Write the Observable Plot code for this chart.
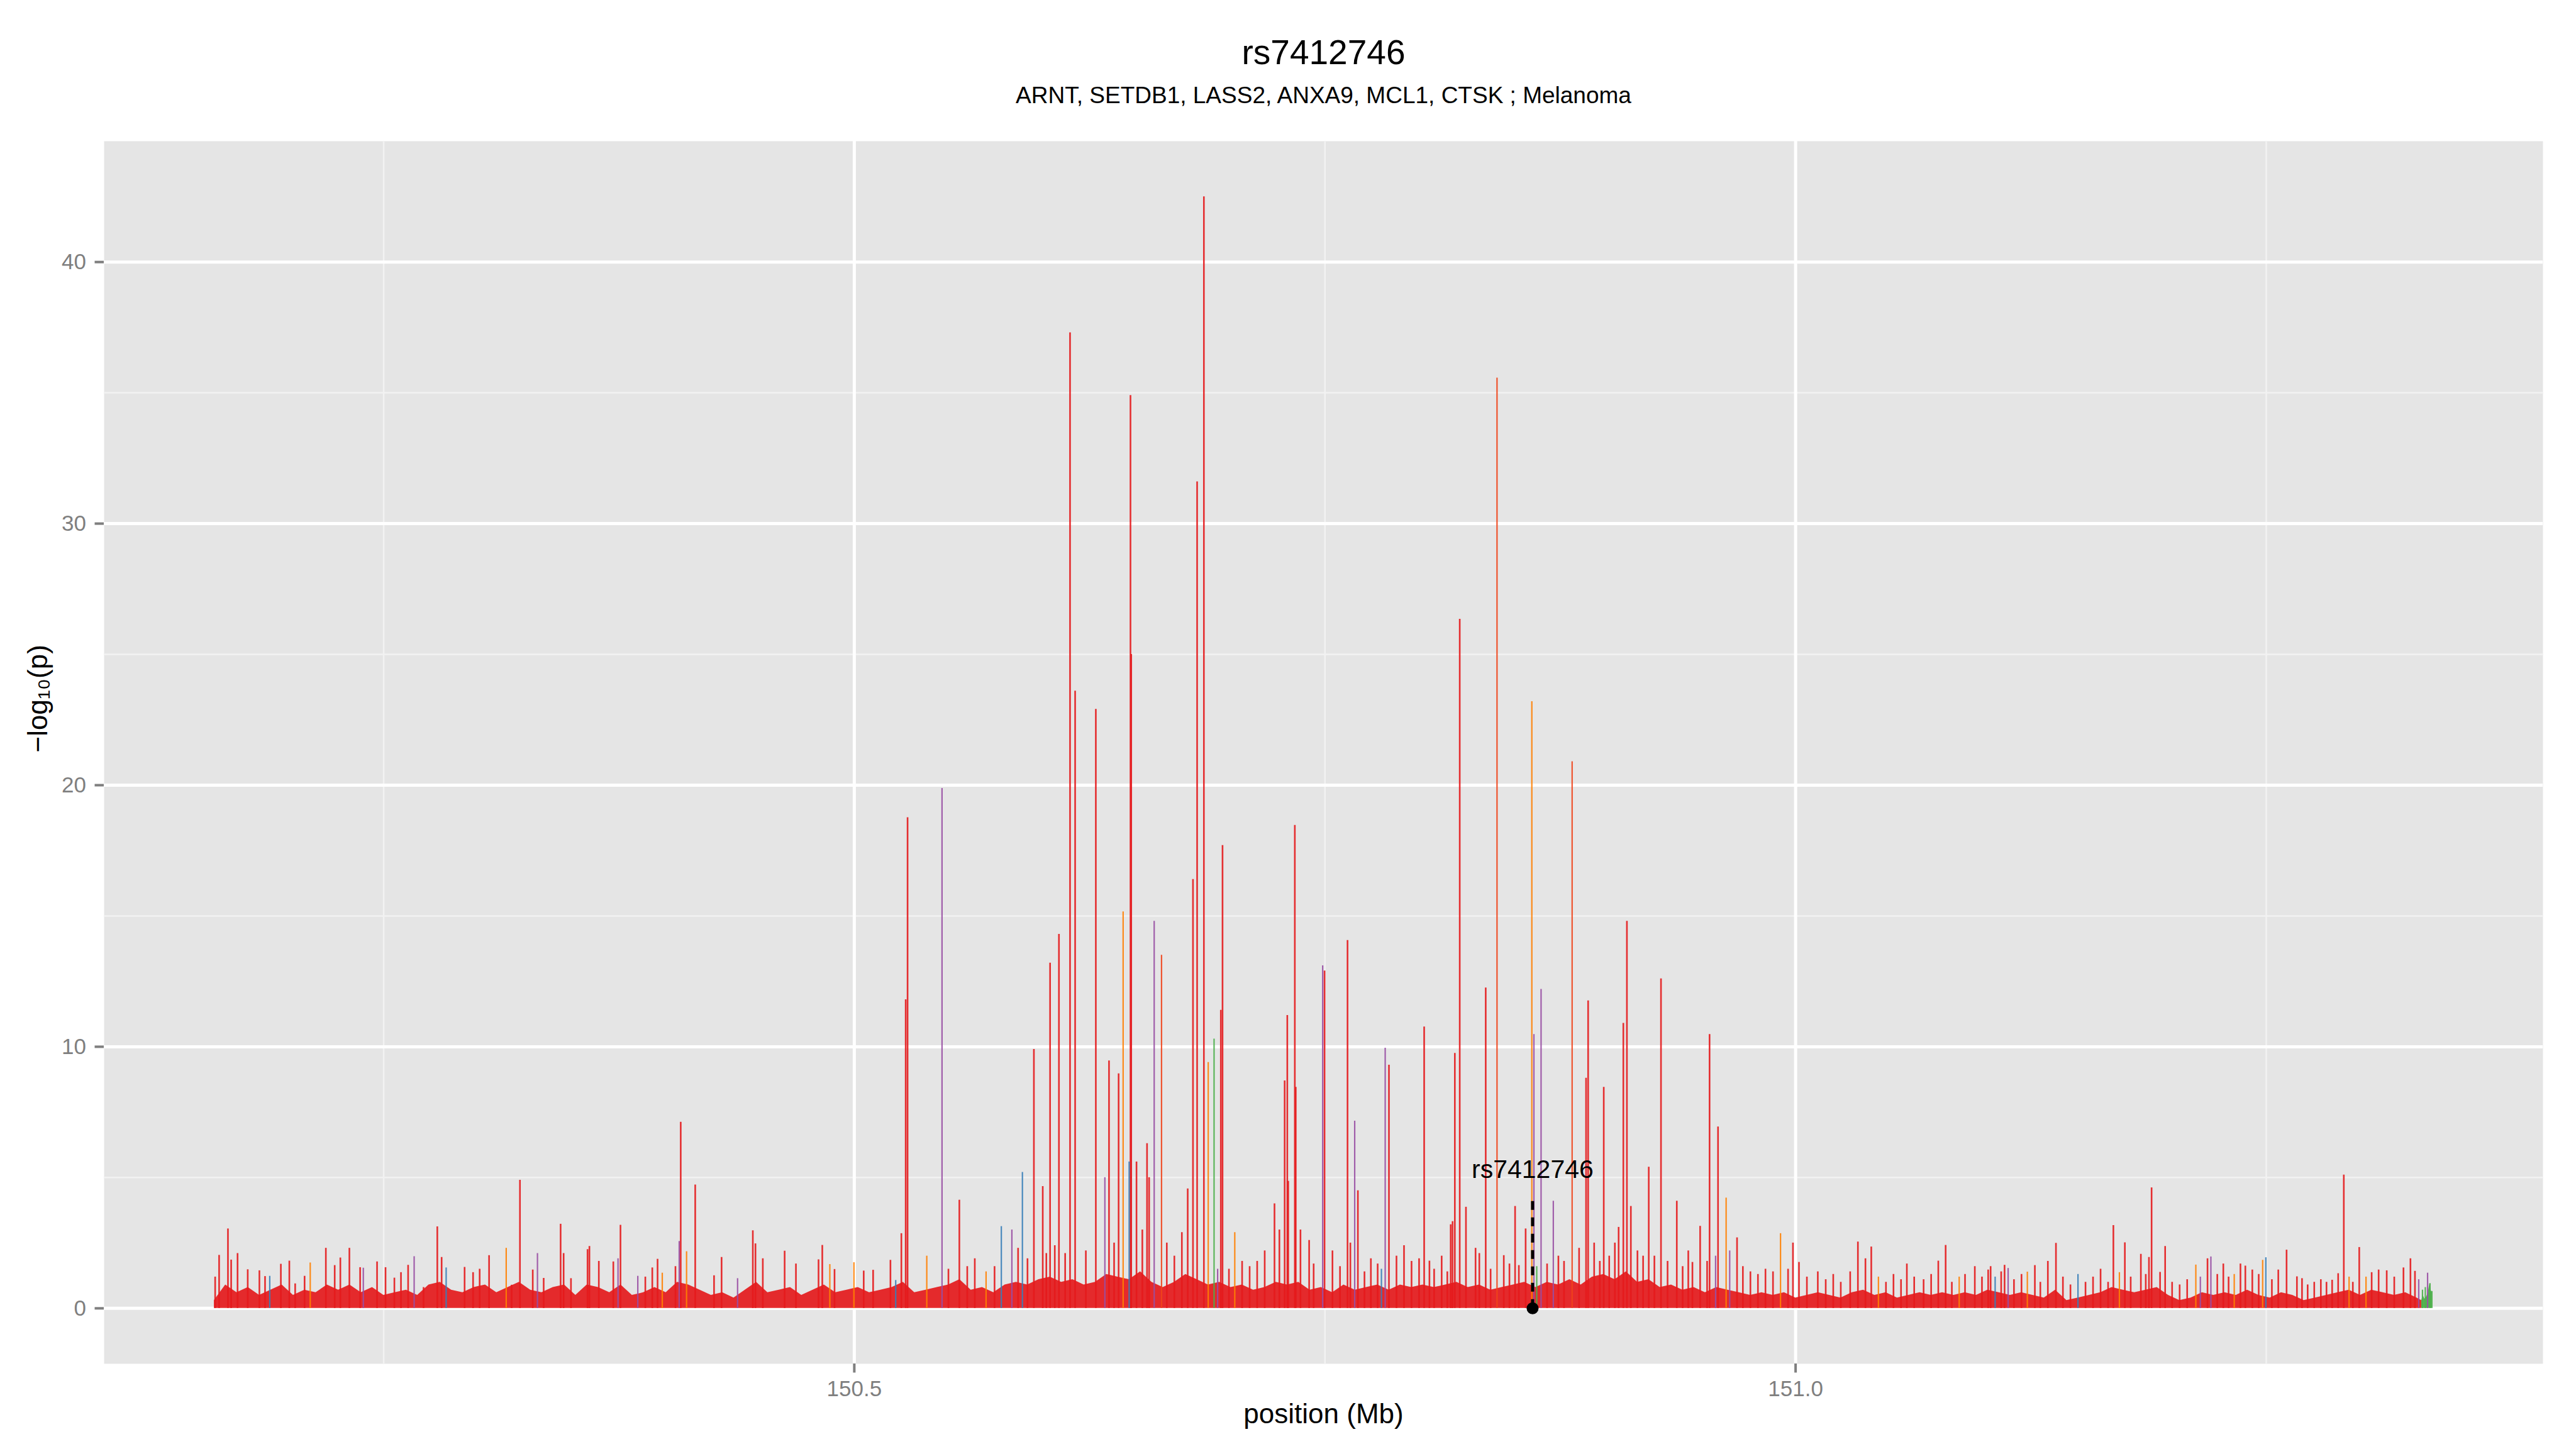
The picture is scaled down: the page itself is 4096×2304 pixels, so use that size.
<!DOCTYPE html>
<html><head><meta charset="utf-8">
<script src="https://cdn.jsdelivr.net/npm/d3@7"></script>
<script src="https://cdn.jsdelivr.net/npm/@observablehq/plot@0.6"></script>
<style>
html,body{margin:0;padding:0;background:#fff;}
#chart{width:4096px;height:2304px;overflow:hidden;}
</style></head><body><div id="chart"></div>
<script>
// ---- text ----
const titleText = "rs7412746";
const subtitleText = "ARNT, SETDB1, LASS2, ANXA9, MCL1, CTSK ; Melanoma";
const xTitle = "position (Mb)";
const yTitle = "\u2212log\u2081\u2080(p)";
const xTicks = [150.5, 151.0];
const xMinor = [150.25, 150.75, 151.25];
const yTicks = [0, 10, 20, 30, 40];
const yMinor = [5, 15, 25, 35];

// ---- highlighted SNP ----
const snp = {name: "rs7412746", pos: 150.8603, value: 0, lineTop: 4.2, labelY: 5.3};

// ---- series colours (r red, b blue, p purple, o orange, g green, x red+orange overlap) ----
const colorKeys = ["r", "b", "p", "o", "g", "x"];
const colorValues = ["#E41A1C", "#377EB8", "#984EA3", "#FF7F00", "#4DAF4A", "#F0441A"];

// ---- spikes: [position Mb, -log10 p, series] ----
const peaksWest = [
  [150.1605,1.2,"r"],[150.1626,2.03,"r"],[150.1673,3.04,"r"],[150.169,1.85,"r"],[150.1724,2.1,"r"],
  [150.1778,1.48,"r"],[150.184,1.44,"r"],[150.187,1.22,"r"],[150.1895,1.23,"b"],[150.1954,1.69,"r"],
  [150.1999,1.81,"r"],[150.203,0.94,"r"],[150.208,1.23,"r"],[150.211,1.74,"o"],[150.2193,2.3,"r"],
  [150.224,1.64,"r"],[150.227,1.93,"r"],[150.2318,2.3,"r"],[150.2375,1.56,"r"],[150.2392,1.54,"p"],
  [150.2465,1.78,"r"],[150.251,1.56,"r"],[150.2557,1.16,"r"],[150.2592,1.37,"r"],[150.263,1.65,"r"],
  [150.2662,1.98,"p"],[150.2712,0.8,"r"],[150.2785,3.12,"r"],[150.2808,1.95,"r"],[150.2832,1.55,"b"],
  [150.293,1.57,"r"],[150.2975,1.37,"r"],[150.301,1.5,"r"],[150.306,2.02,"r"],[150.3151,2.3,"o"],
  [150.318,0.89,"r"],[150.3224,4.9,"r"],[150.3292,1.47,"r"],[150.3317,2.1,"p"],[150.335,1.15,"r"],
  [150.344,3.22,"r"],[150.3456,2.1,"r"],[150.3495,1.14,"r"],[150.3583,2.25,"r"],[150.3593,2.37,"r"],
  [150.3643,1.8,"r"],[150.372,1.78,"r"],[150.3745,1.9,"p"],[150.3758,3.18,"r"],[150.385,1.23,"p"],
  [150.389,1.2,"r"],[150.3927,1.55,"r"],[150.3955,1.88,"r"],[150.398,1.35,"o"],[150.405,1.6,"r"],
  [150.4078,7.12,"r"],[150.407,2.56,"p"],[150.4109,2.17,"o"],[150.4155,4.72,"r"],[150.4255,1.25,"r"],
  [150.4295,1.95,"r"],[150.438,1.14,"p"],[150.4461,2.97,"r"],[150.4475,2.47,"r"],[150.4514,1.9,"r"],
  [150.463,2.19,"r"],[150.469,1.7,"r"],[150.481,1.86,"r"],[150.483,2.41,"r"],[150.487,1.68,"o"],
  [150.4895,1.49,"r"],[150.4998,1.75,"o"],[150.505,1.43,"r"],[150.51,1.46,"r"],[150.5192,1.84,"r"],
  [150.522,1.07,"b"],[150.525,2.86,"r"],[150.5273,11.8,"r"],[150.5283,18.76,"r"]
];
const peaksCore = [
  [150.5385,2.0,"o"],[150.5466,19.88,"p"],[150.55,1.5,"r"],[150.5558,4.14,"r"],[150.56,1.6,"r"],
  [150.564,1.9,"r"],[150.57,1.4,"o"],[150.5745,1.6,"r"],[150.5781,3.13,"b"],[150.5837,3.0,"p"],
  [150.587,2.3,"r"],[150.5893,5.2,"b"],[150.592,1.9,"r"],[150.5954,9.9,"r"],[150.6001,4.66,"r"],
  [150.602,2.1,"r"],[150.604,13.2,"r"],[150.6065,2.4,"r"],[150.6087,14.3,"r"],[150.612,2.1,"r"],
  [150.6146,37.3,"r"],[150.6173,23.6,"r"],[150.623,2.2,"r"],[150.6283,22.9,"r"],[150.6331,5.0,"p"],
  [150.6353,9.46,"r"],[150.638,2.5,"r"],[150.6404,8.97,"r"],[150.6428,15.16,"o"],[150.646,5.6,"b"],
  [150.6467,34.9,"r"],[150.6471,25.0,"r"],[150.6499,5.6,"r"],[150.653,3.0,"r"],[150.6555,6.3,"r"],
  [150.6566,5.0,"r"],[150.6593,14.8,"p"],[150.6632,13.5,"x"],[150.666,2.5,"r"],[150.67,2.0,"r"],
  [150.674,2.9,"r"],[150.6771,4.57,"r"],[150.6799,16.4,"r"],[150.6821,31.6,"r"],[150.6857,42.5,"r"],
  [150.688,9.4,"o"],[150.6911,10.3,"g"],[150.693,1.5,"p"],[150.6947,11.4,"r"],[150.6956,17.7,"r"],
  [150.699,1.5,"r"],[150.7021,2.9,"o"],[150.706,1.8,"r"],[150.71,1.6,"r"],[150.714,1.8,"r"],
  [150.718,2.2,"r"],[150.7232,4.0,"r"],[150.7258,3.0,"r"],[150.7286,8.7,"r"],[150.73,11.2,"r"],
  [150.7305,4.86,"r"],[150.734,18.47,"r"],[150.7345,8.45,"r"],[150.737,3.0,"r"],[150.7416,2.6,"r"],
  [150.744,1.7,"r"],[150.7488,13.1,"p"],[150.7498,12.9,"r"],[150.754,2.2,"r"],[150.758,1.6,"r"],
  [150.762,14.07,"r"],[150.7635,2.5,"r"],[150.7658,7.16,"p"],[150.7675,4.5,"r"],[150.771,1.4,"r"],
  [150.7744,1.9,"r"],[150.778,1.7,"r"],[150.78,1.5,"b"],[150.782,9.95,"p"],[150.784,9.3,"r"],
  [150.788,2.0,"r"],[150.792,2.4,"r"],[150.796,1.8,"r"],[150.8,1.9,"r"],[150.8027,10.76,"r"],
  [150.8055,1.81,"r"],[150.808,1.5,"r"],[150.812,2.0,"r"],[150.815,1.4,"r"],[150.8168,3.2,"r"],
  [150.8178,3.32,"r"],[150.819,9.75,"r"],[150.8216,26.35,"r"],[150.8249,3.87,"r"],[150.83,2.3,"r"],
  [150.832,2.1,"r"],[150.8354,12.25,"r"],[150.838,1.5,"r"],[150.8414,35.57,"x"],[150.845,2.02,"r"],
  [150.848,1.7,"r"],[150.851,3.9,"r"],[150.853,1.64,"r"],[150.8566,3.04,"r"],[150.8599,23.2,"o"],
  [150.861,10.47,"p"],[150.8625,1.6,"g"],[150.8648,12.2,"p"],[150.868,1.7,"r"],[150.8713,4.1,"p"],
  [150.874,2.0,"r"],[150.877,1.8,"r"],[150.8813,20.9,"x"],[150.885,2.3,"r"],[150.8887,8.8,"r"],
  [150.8898,11.76,"r"],[150.893,2.5,"r"],[150.896,1.8,"r"],[150.8981,8.45,"r"],[150.901,2.0,"r"],
  [150.904,2.5,"r"],[150.906,3.1,"r"],[150.9085,10.9,"r"],[150.9104,14.8,"r"],[150.9125,3.9,"r"],
  [150.916,2.2,"r"],[150.919,2.0,"r"],[150.922,5.4,"r"],[150.925,2.0,"r"],[150.9285,12.6,"r"],
  [150.932,1.8,"r"],[150.9369,4.1,"r"],[150.94,1.6,"r"],[150.943,2.2,"r"],[150.9452,1.76,"r"],
  [150.9493,3.14,"r"],[150.953,1.8,"r"],[150.9543,10.47,"r"],[150.9575,2.0,"p"],[150.9588,6.94,"r"]
];
const peaksEast = [
  [150.9631,4.22,"o"],[150.965,2.2,"p"],[150.9689,2.7,"r"],[150.972,1.6,"r"],[150.976,1.4,"r"],
  [150.98,1.3,"r"],[150.984,1.5,"r"],[150.988,1.4,"r"],[150.992,2.86,"o"],[150.996,1.5,"r"],
  [150.9986,2.5,"r"],[151.0018,1.76,"r"],[151.006,1.2,"r"],[151.0118,1.4,"r"],[151.016,1.1,"r"],
  [151.02,1.3,"r"],[151.024,1.0,"r"],[151.029,1.4,"r"],[151.0331,2.54,"r"],[151.0371,1.9,"r"],
  [151.0402,2.35,"r"],[151.044,1.2,"o"],[151.048,1.0,"r"],[151.052,1.3,"r"],[151.056,1.1,"r"],
  [151.0591,1.7,"r"],[151.063,1.2,"r"],[151.068,1.1,"r"],[151.072,1.3,"r"],[151.0758,1.81,"r"],
  [151.0797,2.41,"r"],[151.083,1.0,"r"],[151.0869,1.2,"o"],[151.09,1.3,"r"],[151.0952,1.6,"r"],
  [151.099,1.2,"r"],[151.1023,1.47,"r"],[151.1036,1.6,"r"],[151.106,1.2,"b"],[151.1092,1.4,"r"],
  [151.111,1.65,"r"],[151.1129,1.53,"p"],[151.116,1.1,"r"],[151.12,1.3,"r"],[151.1231,1.39,"o"],
  [151.1271,1.64,"r"],[151.13,1.0,"r"],[151.134,1.8,"r"],[151.1383,2.49,"r"],[151.142,1.2,"r"],
  [151.146,0.9,"r"],[151.15,1.3,"b"],[151.154,1.0,"r"],[151.158,1.2,"r"],[151.162,1.5,"r"],
  [151.166,1.0,"r"],[151.1688,3.17,"r"],[151.172,1.37,"o"],[151.1749,2.51,"r"],[151.178,1.2,"r"],
  [151.1834,2.07,"r"],[151.186,1.3,"r"],[151.1877,1.95,"r"],[151.1891,4.61,"r"],[151.1936,1.38,"r"],
  [151.1963,2.37,"r"],[151.2,1.0,"r"],[151.204,0.9,"r"],[151.208,1.1,"r"],[151.2126,1.66,"o"],
  [151.215,1.2,"p"],[151.2188,1.9,"r"],[151.2206,1.97,"p"],[151.224,1.3,"r"],[151.2272,1.7,"r"],
  [151.23,1.2,"r"],[151.233,1.3,"o"],[151.2363,1.7,"r"],[151.2389,1.62,"r"],[151.2426,1.47,"r"],
  [151.246,1.3,"r"],[151.2481,1.84,"o"],[151.2498,1.94,"b"],[151.253,1.1,"r"],[151.2564,1.47,"r"],
  [151.2608,2.23,"r"],[151.2663,1.21,"r"],[151.269,1.14,"r"],[151.272,0.9,"r"],[151.2755,1.0,"r"],
  [151.279,1.1,"r"],[151.282,1.0,"r"],[151.285,1.08,"r"],[151.2882,1.33,"r"],[151.2912,5.1,"r"],
  [151.294,1.2,"o"],[151.296,1.0,"r"],[151.2994,2.33,"r"],[151.303,1.2,"o"],[151.306,1.37,"r"],
  [151.3097,1.47,"r"],[151.314,1.44,"r"],[151.318,1.2,"r"],[151.3229,1.55,"r"],[151.3266,1.9,"r"],
  [151.329,1.42,"r"],[151.331,1.1,"p"],[151.333,0.7,"g"],[151.3345,0.8,"g"],[151.3357,1.35,"p"],
  [151.337,0.95,"g"],[151.338,0.65,"g"]
];

// ---- dense low-level signal: [position Mb, -log10 p] ----
const bgWest = [
  [150.160,0.3],[150.166,0.9],[150.172,0.6],[150.178,0.8],[150.184,0.5],[150.190,0.7],[150.196,0.9],
  [150.202,0.5],[150.208,0.7],[150.214,0.6],[150.220,0.9],[150.226,0.7],[150.232,0.9],[150.238,0.6],
  [150.244,0.8],[150.250,0.5],[150.256,0.6],[150.262,0.7],[150.268,0.5],[150.274,0.9],[150.280,1.0],
  [150.286,0.7],[150.292,0.6],[150.298,0.8],[150.304,0.9],[150.310,0.6],[150.316,0.8],[150.322,1.0],
  [150.328,0.7],[150.334,0.6],[150.340,0.8],[150.346,0.9],[150.352,0.5],[150.358,0.9],[150.364,0.8],
  [150.370,0.6],[150.376,0.9],[150.382,0.5],[150.388,0.6],[150.394,0.8],[150.400,0.6],[150.406,1.0],
  [150.412,0.9],[150.418,0.7],[150.424,0.5],[150.430,0.6],[150.436,0.4],[150.442,0.7],[150.448,1.0],
  [150.454,0.6],[150.460,0.7],[150.466,0.8],[150.472,0.5],[150.478,0.7],[150.484,0.9],[150.490,0.6],
  [150.496,0.7],[150.502,0.8],[150.508,0.6],[150.514,0.7],[150.520,0.8],[150.526,1.0]
];
const bgCore = [
  [150.532,0.6],[150.538,0.7],[150.544,0.8],[150.550,0.9],[150.556,1.1],[150.562,0.7],[150.568,0.8],
  [150.574,0.6],[150.580,0.9],[150.586,1.0],[150.592,0.9],[150.598,1.1],[150.604,1.2],[150.610,1.0],
  [150.616,1.1],[150.622,0.9],[150.628,1.0],[150.634,1.3],[150.640,1.2],[150.646,1.1],[150.652,1.4],
  [150.658,1.0],[150.664,0.8],[150.670,1.0],[150.676,1.3],[150.682,1.1],[150.688,0.9],[150.694,1.0],
  [150.700,0.8],[150.706,0.9],[150.712,0.7],[150.718,0.8],[150.724,1.0],[150.730,0.9],[150.736,1.0],
  [150.742,0.7],[150.748,0.8],[150.754,0.6],[150.760,0.9],[150.766,0.7],[150.772,0.8],[150.778,0.9],
  [150.784,0.7],[150.790,0.9],[150.796,0.8],[150.802,0.9],[150.808,0.8],[150.814,0.9],[150.820,1.0],
  [150.826,0.8],[150.832,0.9],[150.838,0.7],[150.844,0.8],[150.850,0.9],[150.856,1.0],[150.862,0.8],
  [150.868,1.0],[150.874,0.9],[150.880,1.1],[150.886,0.9],[150.892,1.2],[150.898,1.3],[150.904,1.1],
  [150.910,1.4],[150.916,1.0],[150.922,1.1],[150.928,0.8],[150.934,0.9],[150.940,0.7],[150.946,0.8],
  [150.952,0.6],[150.958,0.8]
];
const bgEast = [
  [150.964,0.7],[150.970,0.6],[150.976,0.5],[150.982,0.6],[150.988,0.5],[150.994,0.6],[151.000,0.4],
  [151.006,0.5],[151.012,0.6],[151.018,0.5],[151.024,0.4],[151.030,0.6],[151.036,0.7],[151.042,0.5],
  [151.048,0.6],[151.054,0.4],[151.060,0.5],[151.066,0.6],[151.072,0.5],[151.078,0.6],[151.084,0.5],
  [151.090,0.6],[151.096,0.5],[151.102,0.7],[151.108,0.6],[151.114,0.5],[151.120,0.6],[151.126,0.5],
  [151.132,0.4],[151.138,0.7],[151.144,0.3],[151.150,0.4],[151.156,0.5],[151.162,0.6],[151.168,0.8],
  [151.174,0.7],[151.180,0.6],[151.186,0.7],[151.192,0.8],[151.198,0.5],[151.204,0.3],[151.210,0.4],
  [151.216,0.6],[151.222,0.5],[151.228,0.6],[151.234,0.5],[151.240,0.7],[151.246,0.5],[151.252,0.4],
  [151.258,0.6],[151.264,0.5],[151.270,0.3],[151.276,0.4],[151.282,0.5],[151.288,0.6],[151.294,0.7],
  [151.300,0.5],[151.306,0.7],[151.312,0.6],[151.318,0.5],[151.324,0.6],[151.330,0.4],[151.3325,0.3]
];
const greenTail = [
  [151.3325,0.3],[151.3333,0.5],[151.3342,0.35],[151.3352,0.45],[151.336,0.6],[151.3368,0.95],[151.3375,0.7],[151.338,0.6]
];

// ---------- build ----------
const peaks = [...peaksWest, ...peaksCore, ...peaksEast];
const redPeaks = peaks.filter(d => d[2] === "r");
const otherPeaks = peaks.filter(d => d[2] !== "r");
const bg = [...bgWest, ...bgCore, ...bgEast];

const W = 4096, H = 2304;
const mL = 165, mR = 53, mT = 224, mB = 136;
const font = "'Liberation Sans', Arial, Helvetica, sans-serif";

const chart = Plot.plot({
  width: W, height: H,
  marginLeft: mL, marginRight: mR, marginTop: mT, marginBottom: mB,
  style: {fontFamily: font, background: "white", overflow: "visible"},
  x: {domain: [150.1015, 151.397]},
  y: {domain: [-2.12, 44.62]},
  color: {domain: colorKeys, range: colorValues},
  marks: [
    Plot.frame({fill: "#E5E5E5", stroke: "none"}),
    Plot.gridY(yMinor, {stroke: "#F2F2F2", strokeOpacity: 1, strokeWidth: 2.5}),
    Plot.gridX(xMinor, {stroke: "#F2F2F2", strokeOpacity: 1, strokeWidth: 2.5}),
    Plot.gridY(yTicks, {stroke: "#FFFFFF", strokeOpacity: 1, strokeWidth: 5}),
    Plot.gridX(xTicks, {stroke: "#FFFFFF", strokeOpacity: 1, strokeWidth: 5}),
    Plot.axisX(xTicks, {anchor: "bottom", tickSize: 14.5, tickPadding: 12, strokeWidth: 4,
      tickFormat: d => d.toFixed(1), fontSize: 35, color: "#7F7F7F", label: null}),
    Plot.axisY(yTicks, {anchor: "left", tickSize: 14.5, tickPadding: 14, strokeWidth: 4,
      tickFormat: d => String(d), fontSize: 35, color: "#7F7F7F", label: null}),
    // signal
    Plot.areaY(bg, {x: d => d[0], y: d => d[1], fill: "#E41A1C", fillOpacity: 0.92}),
    Plot.areaY(greenTail, {x: d => d[0], y: d => d[1], fill: "#4DAF4A", fillOpacity: 0.95}),
    Plot.ruleX(redPeaks, {x: d => d[0], y1: 0, y2: d => d[1], stroke: d => d[2], strokeWidth: 2.6, strokeOpacity: 0.9}),
    Plot.ruleX(otherPeaks, {x: d => d[0], y1: 0, y2: d => d[1], stroke: d => d[2], strokeWidth: 2.2, strokeOpacity: 0.9}),
    // SNP annotation
    Plot.ruleX([snp], {x: "pos", y1: "value", y2: "lineTop", stroke: "black", strokeWidth: 5, strokeDasharray: "14,12"}),
    Plot.dot([snp], {x: "pos", y: "value", r: 9.5, fill: "black", stroke: "none"}),
    Plot.text([snp], {x: "pos", y: "labelY", text: "name", fontSize: 41, fill: "black"}),
    // titles
    Plot.text([titleText], {frameAnchor: "top", lineAnchor: "middle", dy: -140, fontSize: 55, fill: "black"}),
    Plot.text([subtitleText], {frameAnchor: "top", lineAnchor: "middle", dy: -72, fontSize: 37, fill: "black"}),
    Plot.text([xTitle], {frameAnchor: "bottom", lineAnchor: "middle", dy: 80, fontSize: 44, fill: "black"}),
    Plot.text([yTitle], {frameAnchor: "left", lineAnchor: "middle", dx: -105, rotate: -90, fontSize: 44, fill: "black"})
  ]
});
document.getElementById("chart").appendChild(chart);
</script>
</body></html>
